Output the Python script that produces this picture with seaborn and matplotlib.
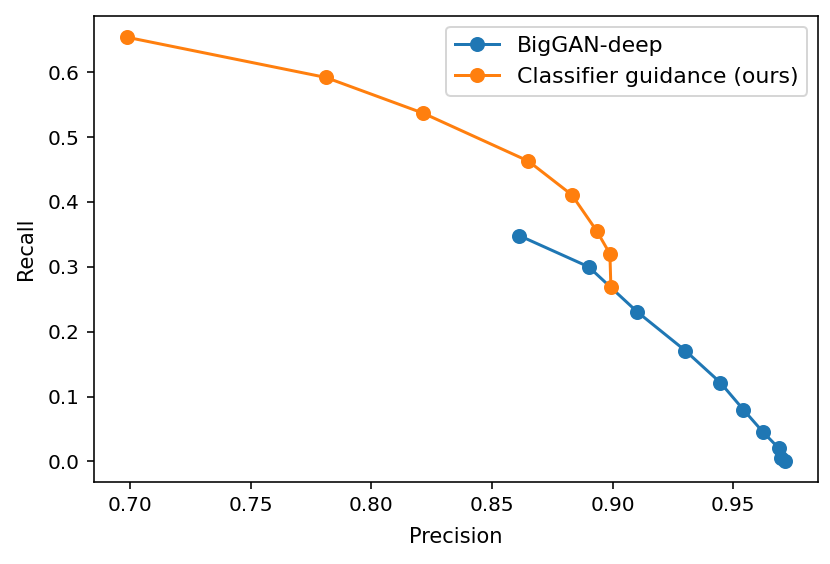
import matplotlib
matplotlib.use("Agg")
import matplotlib.pyplot as plt
import pandas as pd
import seaborn as sns

# Precision / recall pairs
biggan_precision = [0.8614, 0.8901, 0.9101, 0.9301, 0.9447, 0.9542, 0.9622, 0.9690, 0.9700, 0.9715]
biggan_recall = [0.348, 0.300, 0.231, 0.171, 0.1215, 0.080, 0.046, 0.020, 0.006, 0.001]

guidance_precision = [0.6986, 0.7811, 0.8214, 0.8651, 0.8831, 0.8935, 0.8989, 0.8993]
guidance_recall = [0.654, 0.592, 0.537, 0.463, 0.411, 0.355, 0.320, 0.269]

labels = ["BigGAN-deep", "Classifier guidance (ours)"]
colors = ["#1f77b4", "#ff7f0e"]

df_biggan = pd.DataFrame({"Precision": biggan_precision, "Recall": biggan_recall})
df_guid = pd.DataFrame({"Precision": guidance_precision, "Recall": guidance_recall})

fig, ax = plt.subplots(figsize=(830 / 144, 564 / 144), dpi=144)
for d, lab, c in zip([df_biggan, df_guid], labels, colors):
    sns.lineplot(data=d, x="Precision", y="Recall", ax=ax, sort=False, estimator=None,
                 color=c, marker="o", markersize=6.5, markeredgecolor=c,
                 markeredgewidth=1, linewidth=1.5, label=lab)

ax.set_xlabel("Precision", fontsize=10.5, labelpad=6)
ax.set_ylabel("Recall", fontsize=10.5, labelpad=6)
ax.legend(loc="upper right", fontsize=11)
fig.subplots_adjust(left=0.113, right=0.9855, top=0.9716, bottom=0.1454)
fig.savefig("out.png", dpi=144)
